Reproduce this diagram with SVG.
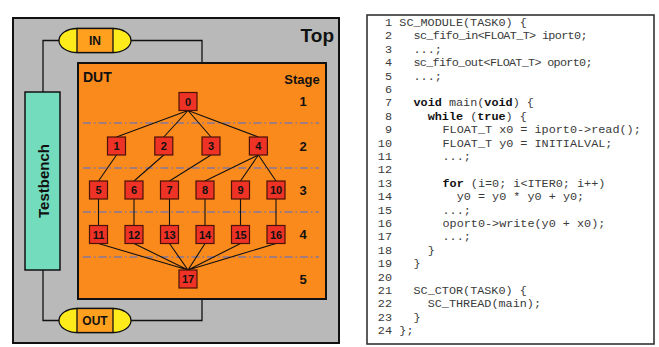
<svg xmlns="http://www.w3.org/2000/svg" width="659" height="347" viewBox="0 0 659 347">
<defs>
<style>
.lbl{font-family:"Liberation Sans",Arial,sans-serif;font-weight:bold;fill:#111}
.node rect{fill:#ee3226;stroke:#4a1208;stroke-width:1.2}
.node text{font-family:"Liberation Sans",Arial,sans-serif;font-weight:bold;font-size:11px;fill:#111;text-anchor:middle}
.edge{stroke:#111;stroke-width:1.1;fill:none}
.wire{stroke:#111;stroke-width:1.3;fill:none}
.stage{stroke:#4a6fdc;stroke-width:1.2;stroke-dasharray:8 3 1.5 3;fill:none}
.code{font-family:"Liberation Mono","Courier New",monospace;font-size:11.8px;fill:#3a3a3a}
.code .b{font-weight:bold;fill:#111}
.num{text-anchor:end}
</style>
</defs>
<rect width="659" height="347" fill="#fff"/>

<g id="top">
<rect x="13" y="18" width="326" height="325" fill="#b9b9b9" stroke="#111" stroke-width="2"/>
<text class="lbl" x="334" y="42" font-size="19" text-anchor="end">Top</text>
</g>

<g id="connectors-io">
<path class="wire" d="M59,40.5 H43 V92"/>
<path class="wire" d="M131,40.5 H202 V63"/>
<path class="wire" d="M59,320.5 H43 V270"/>
<path class="wire" d="M131,320.5 H202 V299"/>
</g>

<g id="in">
<path d="M77,28.5 H113 A18,12 0 0 1 113,52.5 H77 A18,12 0 0 1 77,28.5 Z" fill="#ffeb1c" stroke="#111" stroke-width="1.3"/>
<rect x="77" y="28.5" width="36" height="24" fill="#ffa11f" stroke="#111" stroke-width="1.3"/>
<text class="lbl" x="95" y="44.8" font-size="12" text-anchor="middle">IN</text>
</g>

<g id="out">
<path d="M77,308.5 H113 A18,12 0 0 1 113,332.5 H77 A18,12 0 0 1 77,308.5 Z" fill="#ffeb1c" stroke="#111" stroke-width="1.3"/>
<rect x="77" y="308.5" width="36" height="24" fill="#ffa11f" stroke="#111" stroke-width="1.3"/>
<text class="lbl" x="95" y="325" font-size="12" text-anchor="middle">OUT</text>
</g>

<g id="testbench">
<rect x="25" y="92" width="35" height="178" fill="#72dcbc" stroke="#111" stroke-width="1.5"/>
<text class="lbl" transform="translate(48.5,181) rotate(-90)" font-size="15" text-anchor="middle">Testbench</text>
</g>

<g id="dut">
<rect x="78" y="63" width="248" height="236" fill="#fb8a1d" stroke="#111" stroke-width="2"/>
<text class="lbl" x="83" y="82" font-size="14">DUT</text>
<text class="lbl" x="302" y="84" font-size="13" text-anchor="middle">Stage</text>
<text class="lbl" x="303" y="106" font-size="13" text-anchor="middle">1</text>
<text class="lbl" x="303" y="150.5" font-size="13" text-anchor="middle">2</text>
<text class="lbl" x="303" y="194.5" font-size="13" text-anchor="middle">3</text>
<text class="lbl" x="303" y="239" font-size="13" text-anchor="middle">4</text>
<text class="lbl" x="303" y="284" font-size="13" text-anchor="middle">5</text>
<path class="stage" d="M83,123 H319 M83,168 H319 M83,212 H319 M83,257 H319"/>
</g>

<g id="connectors">
<path class="edge" d="M188,110.5 L116.5,137 M188,110.5 L163.8,137 M188,110.5 L211,137 M188,110.5 L258.4,137"/>
<path class="edge" d="M116.5,155 L98.5,181 M163.8,155 L134,181 M211,155 L169.5,181 M258.4,155 L205,181 M258.4,155 L240.5,181 M258.4,155 L276,181"/>
<path class="edge" d="M98.5,199 V225.5 M134,199 V225.5 M169.5,199 V225.5 M205,199 V225.5 M240.5,199 V225.5 M276,199 V225.5"/>
<path class="edge" d="M98.5,243.5 L188,270 M134,243.5 L188,270 M169.5,243.5 L188,270 M205,243.5 L188,270 M240.5,243.5 L188,270 M276,243.5 L188,270"/>
</g>

<g id="n0" class="node"><rect x="179" y="92.5" width="18" height="18"/><text x="188" y="105.5">0</text></g>
<g id="n1" class="node"><rect x="107.5" y="137" width="18" height="18"/><text x="116.5" y="150">1</text></g>
<g id="n2" class="node"><rect x="154.8" y="137" width="18" height="18"/><text x="163.8" y="150">2</text></g>
<g id="n3" class="node"><rect x="202" y="137" width="18" height="18"/><text x="211" y="150">3</text></g>
<g id="n4" class="node"><rect x="249.4" y="137" width="18" height="18"/><text x="258.4" y="150">4</text></g>
<g id="n5" class="node"><rect x="89.5" y="181" width="18" height="18"/><text x="98.5" y="194">5</text></g>
<g id="n6" class="node"><rect x="125" y="181" width="18" height="18"/><text x="134" y="194">6</text></g>
<g id="n7" class="node"><rect x="160.5" y="181" width="18" height="18"/><text x="169.5" y="194">7</text></g>
<g id="n8" class="node"><rect x="196" y="181" width="18" height="18"/><text x="205" y="194">8</text></g>
<g id="n9" class="node"><rect x="231.5" y="181" width="18" height="18"/><text x="240.5" y="194">9</text></g>
<g id="n10" class="node"><rect x="267" y="181" width="18" height="18"/><text x="276" y="194">10</text></g>
<g id="n11" class="node"><rect x="89.5" y="225.5" width="18" height="18"/><text x="98.5" y="238.5">11</text></g>
<g id="n12" class="node"><rect x="125" y="225.5" width="18" height="18"/><text x="134" y="238.5">12</text></g>
<g id="n13" class="node"><rect x="160.5" y="225.5" width="18" height="18"/><text x="169.5" y="238.5">13</text></g>
<g id="n14" class="node"><rect x="196" y="225.5" width="18" height="18"/><text x="205" y="238.5">14</text></g>
<g id="n15" class="node"><rect x="231.5" y="225.5" width="18" height="18"/><text x="240.5" y="238.5">15</text></g>
<g id="n16" class="node"><rect x="267" y="225.5" width="18" height="18"/><text x="276" y="238.5">16</text></g>
<g id="n17" class="node"><rect x="179" y="270" width="18" height="18"/><text x="188" y="283">17</text></g>

<g id="code">
<rect x="367" y="15" width="287" height="329" fill="#fff" stroke="#333" stroke-width="1.6"/>
<g class="code">
<text class="num" x="392" y="26">1</text><text x="399.3" y="26">SC_MODULE(TASK0) {</text>
<text class="num" x="392" y="39.4">2</text><text x="413.5" y="39.4" textLength="174" lengthAdjust="spacing">sc_fifo_in&lt;FLOAT_T&gt; iport0;</text>
<text class="num" x="392" y="52.8">3</text><text x="413.5" y="52.8">...;</text>
<text class="num" x="392" y="66.2">4</text><text x="413.5" y="66.2" textLength="179" lengthAdjust="spacing">sc_fifo_out&lt;FLOAT_T&gt; oport0;</text>
<text class="num" x="392" y="79.6">5</text><text x="413.5" y="79.6">...;</text>
<text class="num" x="392" y="93">6</text>
<text class="num" x="392" y="106.4">7</text><text x="413.5" y="106.4"><tspan class="b">void</tspan> main(<tspan class="b">void</tspan>) {</text>
<text class="num" x="392" y="119.8">8</text><text x="427.7" y="119.8"><tspan class="b">while</tspan> (<tspan class="b">true</tspan>) {</text>
<text class="num" x="392" y="133.2">9</text><text x="442.5" y="133.2">FLOAT_T x0 = iport0-&gt;read();</text>
<text class="num" x="392" y="146.6">10</text><text x="442.5" y="146.6">FLOAT_T y0 = INITIALVAL;</text>
<text class="num" x="392" y="160">11</text><text x="442.5" y="160">...;</text>
<text class="num" x="392" y="173.4">12</text>
<text class="num" x="392" y="186.8">13</text><text x="442.5" y="186.8"><tspan class="b">for</tspan> (i=0; i&lt;ITER0; i++)</text>
<text class="num" x="392" y="200.2">14</text><text x="456.7" y="200.2">y0 = y0 * y0 + y0;</text>
<text class="num" x="392" y="213.6">15</text><text x="442.5" y="213.6">...;</text>
<text class="num" x="392" y="227">16</text><text x="442.5" y="227">oport0-&gt;write(y0 + x0);</text>
<text class="num" x="392" y="240.4">17</text><text x="442.5" y="240.4">...;</text>
<text class="num" x="392" y="253.8">18</text><text x="427.7" y="253.8">}</text>
<text class="num" x="392" y="267.2">19</text><text x="413.5" y="267.2">}</text>
<text class="num" x="392" y="280.6">20</text>
<text class="num" x="392" y="294">21</text><text x="413.5" y="294">SC_CTOR(TASK0) {</text>
<text class="num" x="392" y="307.4">22</text><text x="427.7" y="307.4">SC_THREAD(main);</text>
<text class="num" x="392" y="320.8">23</text><text x="413.5" y="320.8">}</text>
<text class="num" x="392" y="334.2">24</text><text x="399.3" y="334.2">};</text>
</g>
</g>
</svg>
